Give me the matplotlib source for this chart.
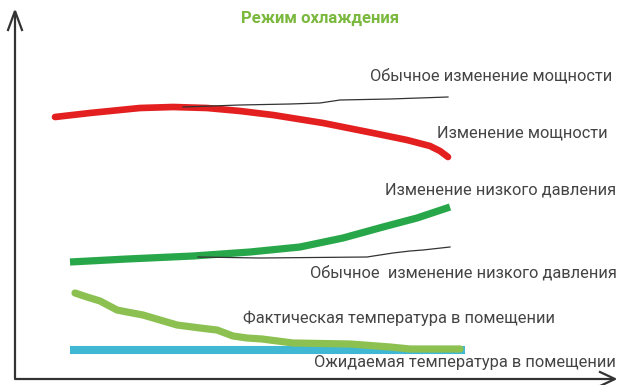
import matplotlib.pyplot as plt

plt.rcParams['font.family'] = ['Roboto', 'DejaVu Sans']

# curve points (x, y) in screen-like units, y grows downward
power_x = [55, 90, 140, 173, 207, 240, 273, 323, 373, 407, 430, 440, 448]
power_y = [117, 113, 108, 107, 108, 111, 115, 123, 133, 140, 146, 151, 157]

power_norm_x = [183, 240, 290, 320, 340, 390, 448]
power_norm_y = [107, 105, 104, 103, 100, 99, 97]

lowp_x = [70, 127, 193, 250, 300, 343, 383, 417, 450]
lowp_y = [262, 259, 256, 252, 247, 238, 227, 218, 207]

lowp_norm_x = [198, 260, 367, 393, 410, 423, 450]
lowp_norm_y = [257, 258, 257, 253, 251, 250, 247]

room_x = [75, 87, 100, 117, 127, 143, 160, 177, 200, 217, 233, 247, 262,
          293, 350, 390, 410, 460]
room_y = [293, 297, 301, 310, 312, 315, 320, 325, 328, 330, 336, 338, 339,
          343, 344, 347, 349, 349]

target_x = [70, 465]
target_y = [350, 350]

labels = [
    ('Обычное изменение мощности', 612, 76),
    ('Изменение мощности', 608, 133),
    ('Изменение низкого давления', 616, 190),
    ('Обычное  изменение низкого давления', 617, 273),
    ('Фактическая температура в помещении', 555, 318),
    ('Ожидаемая температура в помещении', 616, 363),
]

fig = plt.figure(figsize=(6.2, 3.85), dpi=100)
ax = fig.add_axes([0, 0, 1, 1])
ax.set_xlim(0, 620)
ax.set_ylim(385, 0)
ax.axis('off')

# axes arrows
axcol = '#333333'
ax.plot([15, 15, 613], [12, 379, 379], color=axcol, lw=1.6, solid_capstyle='round')
ax.plot([8, 15, 22], [30, 11, 30], color=axcol, lw=1.6, solid_joinstyle='miter')
ax.plot([600, 615, 600], [372, 379, 386], color=axcol, lw=1.6)

ax.plot(target_x, target_y, color='#40b8d3', lw=5.8, solid_capstyle='butt')
ax.plot(room_x, room_y, color='#8cc152', lw=5.2, solid_capstyle='round',
        solid_joinstyle='round')
ax.plot(lowp_x, lowp_y, color='#28a74a', lw=5.2, solid_capstyle='butt',
        solid_joinstyle='round')
ax.plot(lowp_norm_x, lowp_norm_y, color='#333333', lw=0.9)
ax.plot(power_x, power_y, color='#e3201f', lw=4.8, solid_capstyle='round',
        solid_joinstyle='round')
ax.plot(power_norm_x, power_norm_y, color='#333333', lw=0.9)

for txt, x, y in labels:
    ax.text(x, y, txt, ha='right', va='center', fontsize=11.8, color='#444444')

ax.text(320, 18, 'Режим охлаждения', ha='center', va='center', fontsize=12,
        fontweight='bold', color='#7ab83e')

fig.savefig('out.png', dpi=100)
